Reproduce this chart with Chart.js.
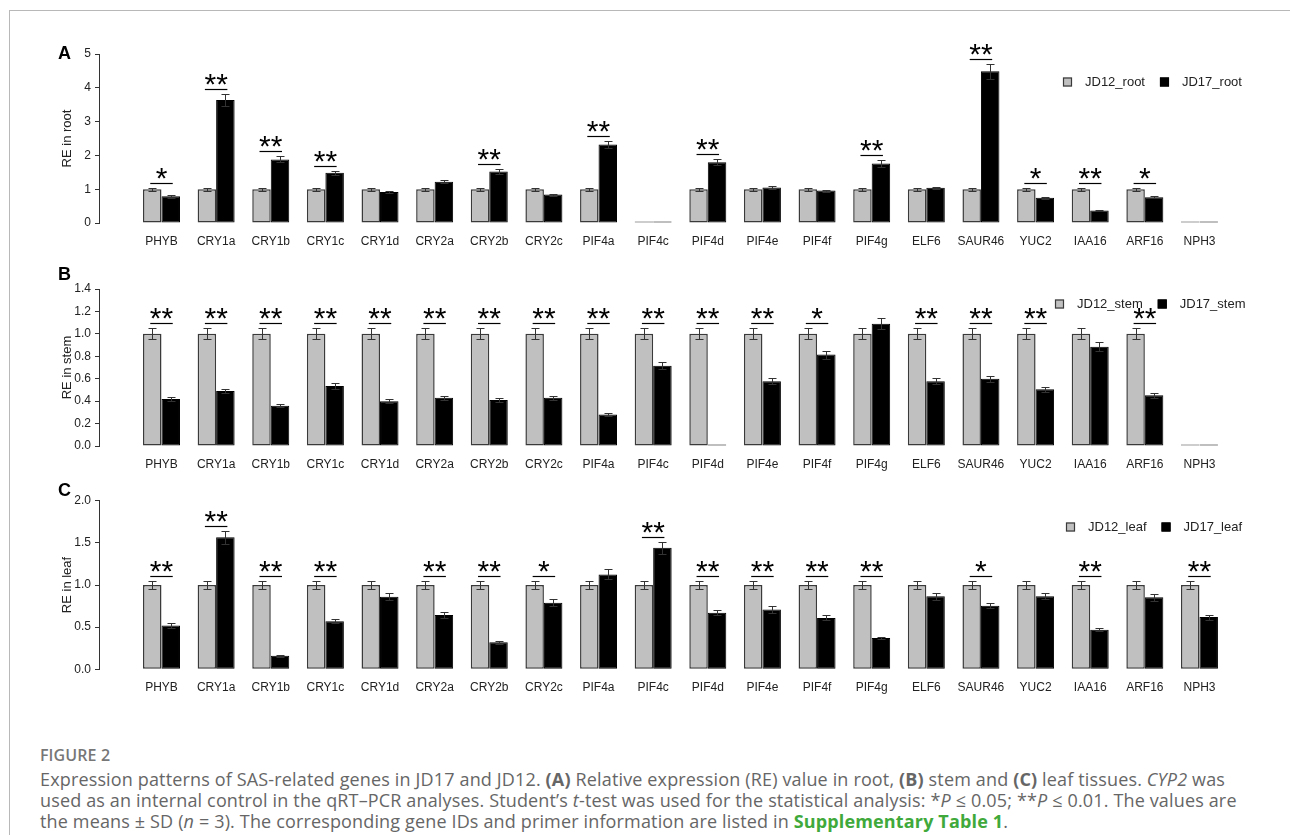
<!DOCTYPE html>
<html>
<head>
<meta charset="utf-8">
<script src="https://cdn.jsdelivr.net/npm/chart.js@4.4.1/dist/chart.umd.min.js"></script>
<style>
  html, body { margin: 0; padding: 0; background: #fff; }
  body { width: 1290px; height: 835px; position: relative; overflow: hidden; font-family: "Liberation Sans", Arial, sans-serif; }
  .frame { position: absolute; left: 9px; top: 10px; width: 1300px; height: 840px; border-top: 1px solid #b8b8b8; border-left: 1px solid #b8b8b8; }
  canvas.panel { position: absolute; left: 0; }
  .letter { position: absolute; left: 58px; font: bold 18px/18px "Liberation Sans", Arial, sans-serif; color: #000; }
  .caption { position: absolute; left: 40px; top: 745px; font-family: "Open Sans", sans-serif; color: #666; white-space: nowrap; }
  .caption .head { font-size: 16px; line-height: 21px; font-weight: 600; color: #777; letter-spacing: 0.1px; }
  .caption .line { font-size: 18px; line-height: 21px; letter-spacing: 0.15px; }
  .caption .first { margin-top: 3px; }
  .caption b { font-weight: 700; }
  .caption .link { color: #3fa93b; font-weight: 700; }
</style>
</head>
<body>
<div class="frame"></div>

<canvas id="rootChart" class="panel" width="1290" height="232" style="top:30px"></canvas>
<canvas id="stemChart" class="panel" width="1290" height="210" style="top:264px"></canvas>
<canvas id="leafChart" class="panel" width="1290" height="220" style="top:478px"></canvas>

<div class="letter" style="top:44px">A</div>
<div class="letter" style="top:265px">B</div>
<div class="letter" style="top:481px">C</div>

<div class="caption">
  <div class="head">FIGURE 2</div>
  <div class="line first">Expression patterns of SAS-related genes in JD17 and JD12. <b>(A)</b> Relative expression (RE) value in root, <b>(B)</b> stem and <b>(C)</b> leaf tissues. <i>CYP2</i> was</div>
  <div class="line">used as an internal control in the qRT–PCR analyses. Student’s <i>t</i>-test was used for the statistical analysis: *<i>P</i> ≤ 0.05; **<i>P</i> ≤ 0.01. The values are</div>
  <div class="line">the means ± SD (<i>n</i> = 3). The corresponding gene IDs and primer information are listed in <span class="link">Supplementary Table 1</span>.</div>
</div>

<script>
// Genes on the category axis (same order in all three tissues)
const genes = ['PHYB', 'CRY1a', 'CRY1b', 'CRY1c', 'CRY1d', 'CRY2a', 'CRY2b', 'CRY2c', 'PIF4a', 'PIF4c',
               'PIF4d', 'PIF4e', 'PIF4f', 'PIF4g', 'ELF6', 'SAUR46', 'YUC2', 'IAA16', 'ARF16', 'NPH3'];

// Root: relative expression and SD
const rootNames = ['JD12_root', 'JD17_root'];
const rootJD12 = [1, 1, 1, 1, 1, 1, 1, 1, 1, 0, 1, 1, 1, 1, 1, 1, 1, 1, 1, 0];
const rootJD12Sd = [0.05, 0.05, 0.05, 0.05, 0.05, 0.05, 0.05, 0.05, 0.05, 0, 0.05, 0.05, 0.05, 0.05, 0.05, 0.05, 0.05, 0.05, 0.05, 0];
const rootJD17 = [0.79, 3.64, 1.88, 1.49, 0.92, 1.22, 1.52, 0.84, 2.32, 0, 1.80, 1.05, 0.96, 1.76, 1.04, 4.49, 0.75, 0.37, 0.76, 0];
const rootJD17Sd = [0.04, 0.18, 0.09, 0.06, 0.03, 0.05, 0.07, 0.03, 0.10, 0, 0.08, 0.04, 0.03, 0.09, 0.03, 0.22, 0.03, 0.02, 0.03, 0];
const rootSig = ['*', '**', '**', '**', '', '', '**', '', '**', '', '**', '', '', '**', '', '**', '*', '**', '*', ''];
const rootTicks = ['0', '1', '2', '3', '4', '5'];

// Stem
const stemNames = ['JD12_stem', 'JD17_stem'];
const stemJD12 = [1, 1, 1, 1, 1, 1, 1, 1, 1, 1, 1, 1, 1, 1, 1, 1, 1, 1, 1, 0];
const stemJD12Sd = [0.05, 0.05, 0.05, 0.05, 0.05, 0.05, 0.05, 0.05, 0.05, 0.05, 0.05, 0.05, 0.05, 0.05, 0.05, 0.05, 0.05, 0.05, 0.05, 0];
const stemJD17 = [0.42, 0.49, 0.36, 0.535, 0.40, 0.43, 0.41, 0.43, 0.28, 0.716, 0.012, 0.577, 0.815, 1.09, 0.577, 0.60, 0.505, 0.886, 0.452, 0];
const stemJD17Sd = [0.02, 0.02, 0.015, 0.025, 0.015, 0.02, 0.02, 0.02, 0.01, 0.03, 0, 0.025, 0.035, 0.05, 0.025, 0.025, 0.02, 0.04, 0.02, 0];
const stemSig = ['**', '**', '**', '**', '**', '**', '**', '**', '**', '**', '**', '**', '*', '', '**', '**', '**', '', '**', ''];
const stemTicks = ['0.0', '0.2', '0.4', '0.6', '0.8', '1.0', '1.2', '1.4'];

// Leaf
const leafNames = ['JD12_leaf', 'JD17_leaf'];
const leafJD12 = [1, 1, 1, 1, 1, 1, 1, 1, 1, 1, 1, 1, 1, 1, 1, 1, 1, 1, 1, 1];
const leafJD12Sd = [0.05, 0.05, 0.05, 0.05, 0.05, 0.05, 0.05, 0.05, 0.05, 0.05, 0.05, 0.05, 0.05, 0.05, 0.05, 0.05, 0.05, 0.05, 0.05, 0.05];
const leafJD17 = [0.52, 1.565, 0.16, 0.57, 0.86, 0.644, 0.32, 0.79, 1.126, 1.443, 0.672, 0.708, 0.609, 0.37, 0.866, 0.755, 0.866, 0.47, 0.854, 0.62];
const leafJD17Sd = [0.025, 0.075, 0.01, 0.025, 0.04, 0.03, 0.015, 0.04, 0.06, 0.07, 0.03, 0.04, 0.03, 0.015, 0.04, 0.03, 0.035, 0.02, 0.04, 0.03];
const leafSig = ['**', '**', '**', '**', '', '**', '**', '*', '', '**', '**', '**', '**', '**', '', '*', '', '**', '', '**'];
const leafTicks = ['0.0', '0.5', '1.0', '1.5', '2.0'];

const AXIS_FONT = 'Liberation Sans';
const TEXT = '#222';

// Error bars, significance brackets and the in-plot legend
const annotate = {
  id: 'annotate',
  afterDatasetsDraw(chart, args, opts) {
    const ctx = chart.ctx;
    const y = chart.scales.y;
    const sds = opts.sd;
    ctx.save();
    ctx.lineWidth = 1;
    ctx.strokeStyle = '#333';
    chart.data.datasets.forEach((ds, d) => {
      const meta = chart.getDatasetMeta(d);
      meta.data.forEach((bar, i) => {
        const v = ds.data[i].y, s = sds[d][i];
        if (!s) return;
        const x = Math.round(bar.x) + 0.5;
        const yt = Math.round(y.getPixelForValue(v + s)) + 0.5;
        const yb = Math.round(y.getPixelForValue(v - s)) + 0.5;
        ctx.beginPath();
        ctx.moveTo(x, yt); ctx.lineTo(x, yb);
        ctx.moveTo(x - 4, yt); ctx.lineTo(x + 4, yt);
        ctx.moveTo(x - 4, yb); ctx.lineTo(x + 4, yb);
        ctx.stroke();
      });
    });

    opts.sig.forEach((mark, i) => {
      if (!mark) return;
      let top = 0;
      chart.data.datasets.forEach((ds, d) => { top = Math.max(top, ds.data[i].y + sds[d][i]); });
      const a = chart.getDatasetMeta(0).data[i];
      const b = chart.getDatasetMeta(1).data[i];
      const ly = Math.round(y.getPixelForValue(top) - 5) + 0.5;
      ctx.strokeStyle = '#000';
      ctx.lineWidth = 1.2;
      ctx.beginPath();
      ctx.moveTo(a.x - 2, ly); ctx.lineTo(b.x + 2, ly);
      ctx.stroke();
      ctx.fillStyle = '#000';
      ctx.font = '30px "Liberation Sans"';
      ctx.textAlign = 'center';
      ctx.textBaseline = 'alphabetic';
      ctx.fillText(mark, (a.x + b.x) / 2, ly + 4.5);
    });
    ctx.restore();
  },
  afterDraw(chart, args, opts) {
    const ctx = chart.ctx;
    const lg = opts.legend;
    ctx.save();
    ctx.font = '13px "' + AXIS_FONT + '"';
    ctx.textBaseline = 'middle';
    ctx.textAlign = 'left';
    let x = lg.x;
    chart.data.datasets.forEach((ds) => {
      ctx.fillStyle = ds.backgroundColor;
      ctx.fillRect(x, lg.y - 4.5, 9, 9);
      ctx.strokeStyle = ds.borderColor;
      ctx.lineWidth = 1.2;
      ctx.strokeRect(x + 0.5, lg.y - 4, 8, 8);
      ctx.fillStyle = TEXT;
      ctx.fillText(ds.label, x + 22, lg.y);
      x += 22 + ctx.measureText(ds.label).width + 15;
    });
    ctx.restore();
  }
};

function makePanel(id, p) {
  const toPoints = (vals) => vals.map((v, i) => ({ x: i, y: v }));
  return new Chart(document.getElementById(id), {
    type: 'bar',
    data: {
      datasets: [
        { label: p.names[0], data: toPoints(p.jd12), backgroundColor: '#c0c0c0', borderColor: '#3a3a3a',
          borderWidth: 1.5, borderSkipped: false, minBarLength: 1.5 },
        { label: p.names[1], data: toPoints(p.jd17), backgroundColor: '#000', borderColor: '#000',
          borderWidth: 1, borderSkipped: false, minBarLength: 1.5 }
      ]
    },
    options: {
      responsive: false,
      animation: false,
      devicePixelRatio: 1,
      categoryPercentage: 0.677,
      barPercentage: 1.0,
      layout: { padding: { top: p.padTop, left: 0, right: 40, bottom: 0 } },
      plugins: {
        legend: { display: false },
        tooltip: { enabled: false },
        annotate: { sd: [p.jd12Sd, p.jd17Sd], sig: p.sig, legend: p.legend }
      },
      scales: {
        x: {
          type: 'linear',
          offset: false,
          min: -1.144,
          max: 19.925,
          grid: { display: false, drawTicks: false, offset: false },
          border: { display: false },
          afterBuildTicks: (s) => { s.ticks = genes.map((g, i) => ({ value: i })); },
          afterFit: (s) => { s.height = p.xHeight; },
          ticks: {
            autoSkip: false, maxRotation: 0, minRotation: 0, padding: 11, color: TEXT,
            font: { family: AXIS_FONT, size: 12 },
            callback: (v) => genes[v]
          }
        },
        y: {
          min: 0,
          max: p.yMax,
          afterFit: (s) => { s.width = 99; },
          afterBuildTicks: (s) => { s.ticks = p.ticks.map((t) => ({ value: parseFloat(t) })); },
          ticks: {
            padding: 4, color: TEXT, font: { family: AXIS_FONT, size: 12 },
            callback: (v, i) => p.ticks[i]
          },
          grid: { drawOnChartArea: false, tickLength: 4, color: '#333', lineWidth: 1 },
          border: { color: '#333', width: 1 },
          title: {
            display: true, text: p.title, color: TEXT,
            font: { family: AXIS_FONT, size: 13 },
            padding: { top: 60, bottom: 0 }
          }
        }
      }
    },
    plugins: [annotate]
  });
}

makePanel('rootChart', {
  names: rootNames, jd12: rootJD12, jd12Sd: rootJD12Sd, jd17: rootJD17, jd17Sd: rootJD17Sd, sig: rootSig,
  ticks: rootTicks, yMax: 5, title: 'RE in root', padTop: 24, xHeight: 39, legend: { x: 1063, y: 52 }
});
makePanel('stemChart', {
  names: stemNames, jd12: stemJD12, jd12Sd: stemJD12Sd, jd17: stemJD17, jd17Sd: stemJD17Sd, sig: stemSig,
  ticks: stemTicks, yMax: 1.4, title: 'RE in stem', padTop: 25, xHeight: 28, legend: { x: 1055, y: 40 }
});
makePanel('leafChart', {
  names: leafNames, jd12: leafJD12, jd12Sd: leafJD12Sd, jd17: leafJD17, jd17Sd: leafJD17Sd, sig: leafSig,
  ticks: leafTicks, yMax: 2.0, title: 'RE in leaf', padTop: 22.7, xHeight: 28.7, legend: { x: 1066, y: 49 }
});
</script>
</body>
</html>
